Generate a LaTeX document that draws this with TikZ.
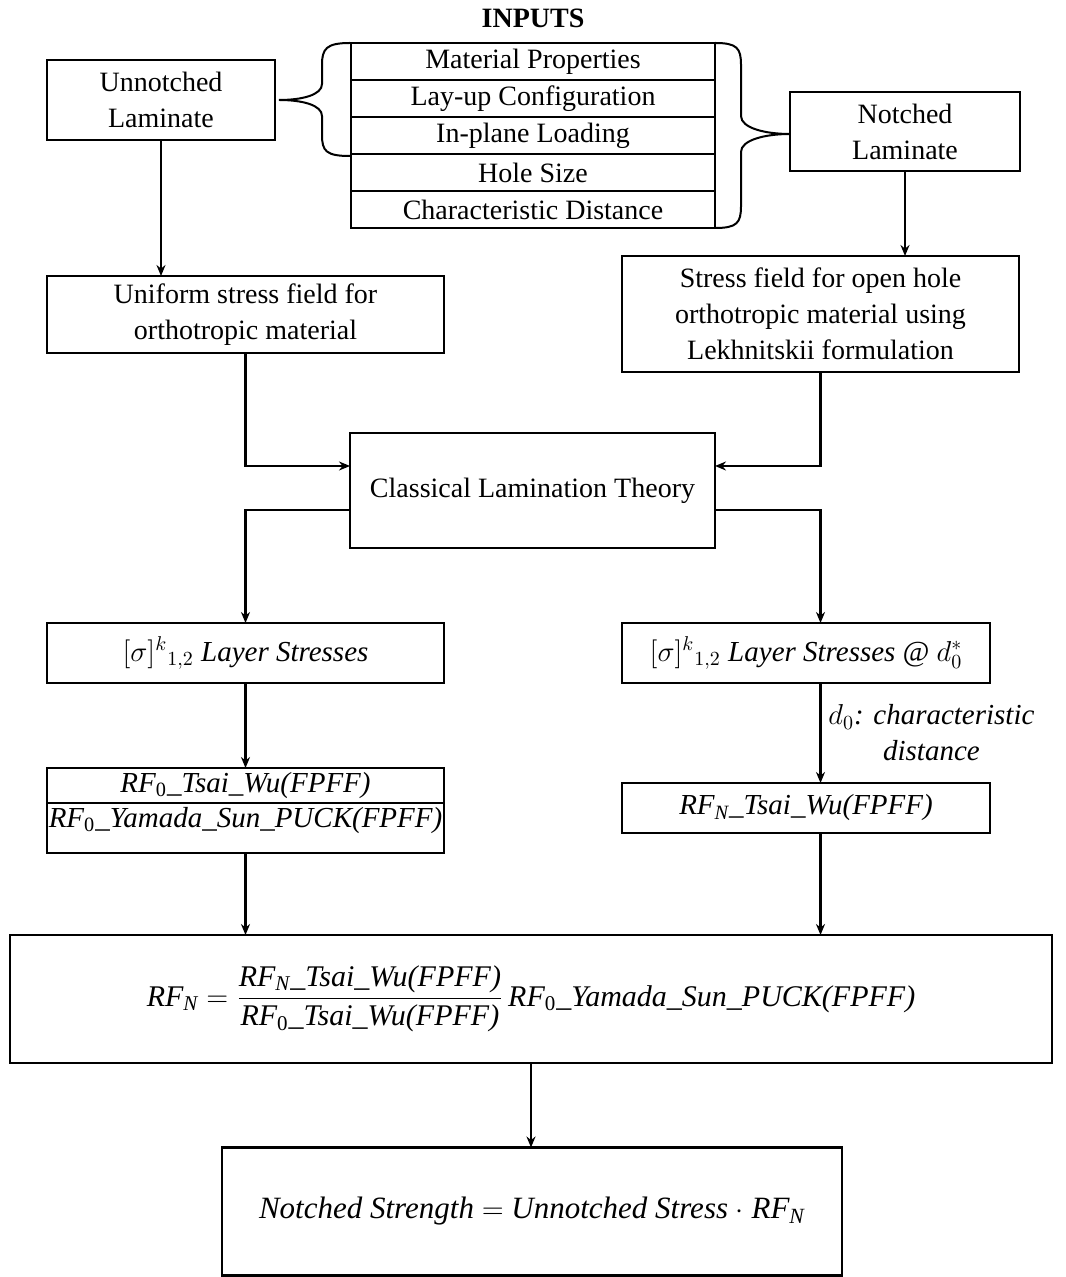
\documentclass[tikz,border=0pt]{standalone}
\usepackage{amsmath}
\usepackage{fontspec}
\setmainfont{Liberation Serif}
\usetikzlibrary{arrows.meta,positioning,calc}

\newcommand{\rfzero}{RF\textsubscript{\upshape 0}}
\newcommand{\rfnotch}{RF\textsubscript{N}}

\begin{document}
\begin{tikzpicture}[x=0.5pt, y=-0.5pt, line width=1.25pt,
  >={Stealth[length=5.5pt,width=4.5pt]},
  font=\fontsize{14}{18}\selectfont,
  blk/.style={draw, align=center, inner sep=2pt, outer sep=0pt},
  eqn/.style={font=\fontsize{14.5}{18}\selectfont\itshape},
  row/.style={blk, minimum width=182pt, minimum height=18.5pt, inner ysep=0pt}]
\useasboundingbox (0,0) rectangle (1065,1277);
\node[font=\fontsize{14}{18}\selectfont\bfseries] (inp) at (533,18) {INPUTS};
\node[row] (in1) at (533,61.5) {Material Properties};
\node[row, below=0pt of in1] (in2) {Lay-up Configuration};
\node[row, below=0pt of in2] (in3) {In-plane Loading};
\node[row, below=0pt of in3] (in4) {Hole Size};
\node[row, below=0pt of in4] (in5) {Characteristic Distance};
\node[blk, minimum width=114pt, minimum height=40pt] (unl) at (161,100) {Unnotched\\Laminate};
\node[blk, minimum width=115pt, minimum height=39.5pt] (ntl) at (905,131.5) {Notched\\Laminate};
\node[blk, minimum width=198.5pt, minimum height=38.5pt] (uni) at (245.5,314.5) {Uniform stress field for\\orthotropic material};
\node[blk, minimum width=198.5pt, minimum height=58pt] (ohs) at (820.5,314) {Stress field for open hole\\orthotropic material using\\Lekhnitskii formulation};
\node[blk, minimum width=182.5pt, minimum height=57.5pt] (clt) at (532.5,490.5) {Classical Lamination Theory};
\node[blk, eqn, minimum width=198.5pt, minimum height=30pt] (lsl) at (245.5,653) {$[\sigma]^{k}{}_{1,2}$ Layer Stresses};
\node[blk, eqn, minimum width=184pt, minimum height=30pt] (lsr) at (806,653) {$[\sigma]^{k}{}_{1,2}$ Layer Stresses @ $d_0^{*}$};
\node[blk, eqn, minimum width=198.5pt, minimum height=17.5pt, inner ysep=0pt] (rfa) at (245.5,785.5) {\rfzero\_Tsai\_Wu(FPFF)};
\node[blk, eqn, minimum width=198.5pt, minimum height=25pt, inner ysep=0pt, inner xsep=0pt,
  text height=12pt, text depth=13pt, below=0pt of rfa] (rfb) {\rfzero\_Yamada\_Sun\_PUCK(FPFF)};
\node[blk, eqn, minimum width=184pt, minimum height=25pt] (rfr) at (806,808) {\rfnotch\_Tsai\_Wu(FPFF)};
\node[blk, font=\fontsize{15}{18}\selectfont\itshape, minimum width=521pt, minimum height=64pt] (frm) at (531,999)
  {\(\text{\rfnotch} = \dfrac{\text{\rfnotch\_Tsai\_Wu(FPFF)}}{\text{\rfzero\_Tsai\_Wu(FPFF)}}\,\text{\rfzero\_Yamada\_Sun\_PUCK(FPFF)}\)};
\node[blk, font=\fontsize{15.5}{18}\selectfont\itshape, minimum width=310pt, minimum height=64pt] (fin) at (532,1211.5)
  {Notched Strength $=$ Unnotched Stress $\cdot$ \rfnotch};
% braces round the inputs
\draw[line width=1pt] (350,43) .. controls (326,43) and (322,49) .. (322,65) -- (322,84)
  .. controls (322,95) and (302,100) .. (279,100) .. controls (302,100) and (322,105) .. (322,116)
  -- (322,135) .. controls (322,151) and (326,156) .. (350,156);
\draw[line width=1pt] (715,43) .. controls (737,43) and (741,48) .. (741,65) -- (741,116)
  .. controls (741,128) and (765,134) .. (790,134) .. controls (765,134) and (741,140) .. (741,152)
  -- (741,206) .. controls (741,223) and (737,228) .. (715,228);
% flow
\draw[->] (unl) -- (unl |- uni.north);
\draw[->] (ntl) -- (ntl |- ohs.north);
\draw[->] (uni.south) |- ([yshift=12.25pt]clt.west);
\draw[->] (ohs.south) |- ([yshift=12.25pt]clt.east);
\draw[->] ([yshift=-9.75pt]clt.west) -| (lsl.north);
\draw[->] ([yshift=-9.75pt]clt.east) -| (lsr.north -| ohs.south);
\draw[->] (lsl) -- (rfa);
\draw[->] (lsr.south -| ohs.south) -- node[right, eqn, align=center]{$d_0$: characteristic\\distance} (rfr.north -| ohs.south);
\draw[->] (rfb) -- (rfb |- frm.north);
\draw[->] (rfr.south -| ohs.south) -- (frm.north -| ohs.south);
\draw[->] (frm) -- (frm |- fin.north);
\end{tikzpicture}
\end{document}
